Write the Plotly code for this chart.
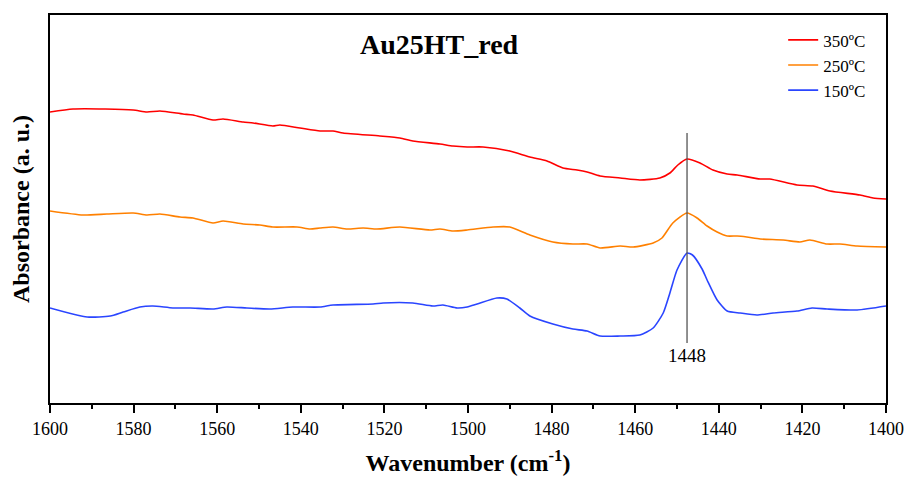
import plotly.graph_objects as go

# Wavenumbers (cm^-1) and absorbance (a.u., offset traces)
wn_350 = [1600, 1594.5, 1586.8, 1580.1, 1576.8, 1573.7, 1568.2, 1565.8, 1561.0, 1558.6, 1553.8, 1551.4,
          1546.7, 1545.0, 1540.2, 1535.4, 1532.3, 1529.9, 1521.1, 1516.3, 1513.2, 1506.7, 1503.6, 1500.2,
          1496.4, 1490.0, 1485.2, 1481.1, 1477.3, 1473.9, 1471.5, 1468.4, 1463.6, 1458.9, 1454.1, 1451.7,
          1449.8, 1447.6, 1444.5, 1441.4, 1438.0, 1435.6, 1430.1, 1427.8, 1421.3, 1417.5, 1413.4, 1406.2,
          1403.1, 1400]
abs_350 = [2.91, 2.94, 2.94, 2.93, 2.91, 2.92, 2.89, 2.88, 2.83, 2.84, 2.81, 2.80,
           2.77, 2.78, 2.75, 2.72, 2.72, 2.70, 2.67, 2.65, 2.62, 2.59, 2.57, 2.56,
           2.56, 2.52, 2.46, 2.42, 2.35, 2.33, 2.31, 2.27, 2.25, 2.23, 2.25, 2.30,
           2.38, 2.44, 2.40, 2.33, 2.29, 2.28, 2.24, 2.24, 2.18, 2.17, 2.12, 2.08,
           2.05, 2.04]

wn_250 = [1600, 1592.1, 1586.4, 1580.1, 1576.8, 1573.7, 1568.9, 1565.8, 1561.0, 1558.6, 1553.8, 1549.8,
          1546.7, 1540.9, 1537.8, 1535.4, 1532.3, 1528.9, 1525.1, 1521.8, 1516.3, 1509.1, 1506.7, 1503.6,
          1500.2, 1494.0, 1490.0, 1485.2, 1479.7, 1474.9, 1471.5, 1468.4, 1463.6, 1460.5, 1455.7, 1453.6,
          1451.0, 1447.6, 1445.2, 1442.8, 1440.4, 1438.0, 1435.6, 1433.3, 1430.1, 1424.6, 1420.6, 1418.2,
          1414.1, 1411.0, 1406.9, 1400]
abs_250 = [1.92, 1.88, 1.89, 1.90, 1.88, 1.89, 1.86, 1.85, 1.80, 1.82, 1.79, 1.78,
           1.76, 1.76, 1.74, 1.75, 1.76, 1.74, 1.75, 1.74, 1.76, 1.73, 1.74, 1.72,
           1.73, 1.76, 1.76, 1.68, 1.61, 1.59, 1.59, 1.55, 1.57, 1.56, 1.60, 1.65,
           1.80, 1.90, 1.85, 1.77, 1.71, 1.67, 1.67, 1.66, 1.64, 1.63, 1.61, 1.63,
           1.59, 1.59, 1.57, 1.56]

wn_150 = [1600, 1591.1, 1585.6, 1582.5, 1578.5, 1575.4, 1570.6, 1566.5, 1561.0, 1557.7, 1552.9, 1547.4,
          1541.9, 1535.4, 1532.3, 1522.7, 1520.3, 1513.2, 1508.4, 1506.0, 1502.6, 1500.2, 1497.8, 1493.1,
          1490.7, 1487.6, 1485.2, 1479.7, 1474.9, 1471.5, 1468.4, 1463.6, 1458.9, 1455.7, 1453.3, 1451.7,
          1450.0, 1447.6, 1446.3, 1444.0, 1442.8, 1440.4, 1438.0, 1434.9, 1430.9, 1427.0, 1421.3, 1417.7,
          1414.1, 1406.9, 1400]
abs_150 = [0.95, 0.86, 0.87, 0.91, 0.96, 0.97, 0.95, 0.95, 0.94, 0.96, 0.95, 0.94,
           0.96, 0.96, 0.98, 0.99, 1.00, 1.00, 0.97, 0.98, 0.95, 0.96, 0.99, 1.05,
           1.04, 0.95, 0.87, 0.79, 0.74, 0.72, 0.67, 0.67, 0.68, 0.75, 0.90, 1.10,
           1.33, 1.50, 1.48, 1.34, 1.23, 1.03, 0.92, 0.90, 0.88, 0.90, 0.92, 0.95,
           0.94, 0.93, 0.97]

series_names = ["350ºC", "250ºC", "150ºC"]
series_colors = ["#FF0000", "#FF8000", "#2A45FF"]

peak_wn = 1447.6
peak_label = "1448"
peak_line_y = [0.60, 2.70]
peak_label_y = 0.48

x_ticks = [1600, 1580, 1560, 1540, 1520, 1500, 1480, 1460, 1440, 1420, 1400]

FONT = "Liberation Serif, Times New Roman, serif"

fig = go.Figure()
for wn, ab, name, col in zip([wn_350, wn_250, wn_150], [abs_350, abs_250, abs_150],
                             series_names, series_colors):
    fig.add_trace(go.Scatter(x=wn, y=ab, mode="lines", name=name,
                             line=dict(color=col, width=1.6, shape="spline", smoothing=0.6)))

fig.add_shape(type="line", xref="x", yref="y", x0=peak_wn, x1=peak_wn,
              y0=peak_line_y[0], y1=peak_line_y[1], line=dict(color="#555555", width=1.3))
fig.add_annotation(x=peak_wn, y=peak_label_y, xref="x", yref="y", text=peak_label,
                   showarrow=False, font=dict(family=FONT, size=19, color="black"))
fig.add_annotation(x=0.4665, y=0.925, xref="paper", yref="paper", text="<b>Au25HT_red</b>",
                   showarrow=False, yanchor="middle",
                   font=dict(family=FONT, size=28, color="black"))

fig.update_layout(
    width=909, height=482,
    margin=dict(l=50, r=23, t=15, b=79, autoexpand=False),
    paper_bgcolor="white", plot_bgcolor="white",
    font=dict(family=FONT, color="black"),
    showlegend=True,
    legend=dict(x=0.877, y=0.981, xanchor="left", yanchor="top",
                bgcolor="rgba(0,0,0,0)", font=dict(family=FONT, size=17, color="black"),
                tracegroupgap=0, itemwidth=30),
    xaxis=dict(range=[1600, 1400], tickvals=x_ticks, ticks="outside", ticklen=8, tickwidth=1.5,
               tickcolor="black", showline=True, linecolor="black", linewidth=1.8, mirror=True,
               showgrid=False, zeroline=False, automargin=False,
               tickfont=dict(family=FONT, size=18, color="black"),
               minor=dict(dtick=10, ticks="outside", ticklen=4, tickwidth=1.5, tickcolor="black"),
               title=dict(text="<b>Wavenumber (cm<sup>-1</sup>)</b>", standoff=17,
                          font=dict(family=FONT, size=24, color="black"))),
    yaxis=dict(range=[0, 3.88], showticklabels=False, ticks="", showline=True, linecolor="black",
               linewidth=1.8, mirror=True, showgrid=False, zeroline=False, automargin=False,
               title=dict(text="<b>Absorbance (a. u.)</b>", standoff=12,
                          font=dict(family=FONT, size=24, color="black"))),
)

fig.write_html("out.html")
